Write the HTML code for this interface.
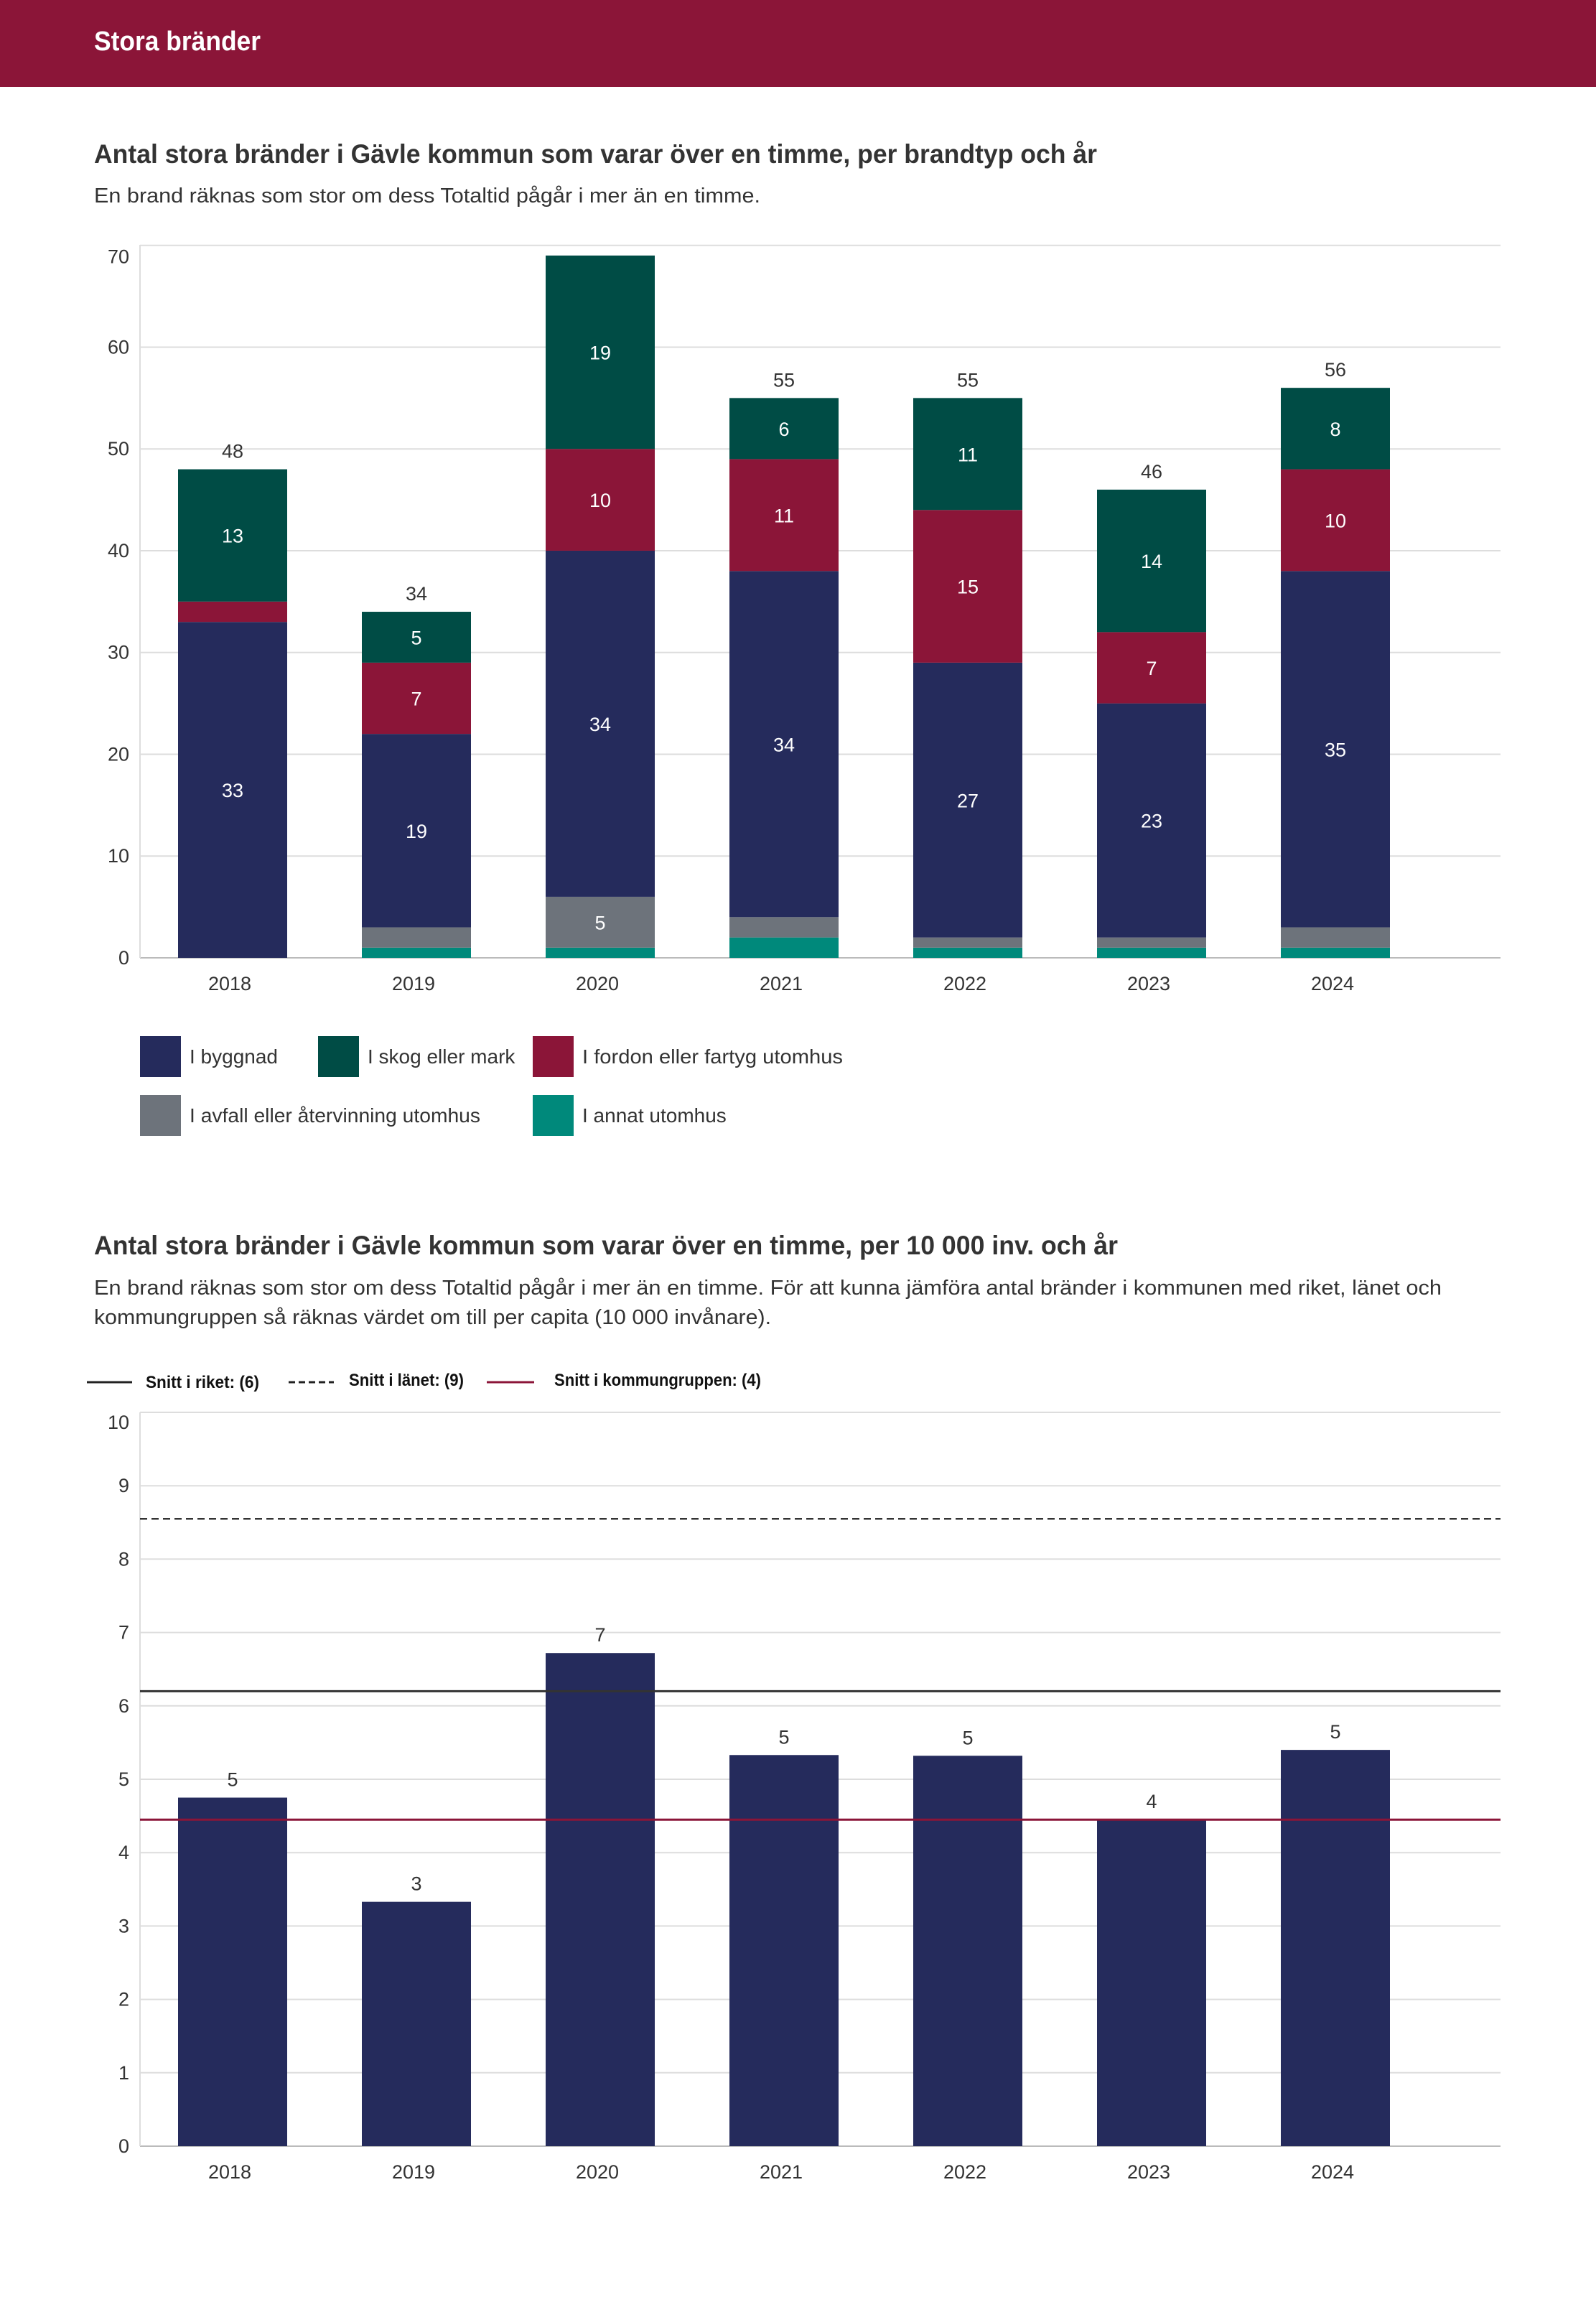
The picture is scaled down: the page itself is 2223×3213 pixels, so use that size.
<!DOCTYPE html>
<html><head><meta charset="utf-8"><style>
html,body{margin:0;padding:0;background:#fff}
svg{display:block;font-family:"Liberation Sans",sans-serif}
</style></head><body>
<svg id="s" width="2223" height="3213" viewBox="0 0 2223 3213" xmlns="http://www.w3.org/2000/svg">
<rect x="0" y="0" width="2223" height="121" fill="#8b1538"/>
<text x="131" y="70" font-size="38" font-weight="bold" fill="#fff" textLength="232" lengthAdjust="spacingAndGlyphs">Stora bränder</text>
<text x="131" y="227" font-size="37" font-weight="bold" fill="#333" textLength="1397" lengthAdjust="spacingAndGlyphs">Antal stora bränder i Gävle kommun som varar över en timme, per brandtyp och år</text>
<text x="131" y="282" font-size="29" fill="#333" textLength="928" lengthAdjust="spacingAndGlyphs">En brand räknas som stor om dess Totaltid pågår i mer än en timme.</text>
<g id="c1"></g>
<g>
<rect x="195" y="1443" width="57" height="57" fill="#252b5c"/>
<text x="264" y="1481" font-size="28" fill="#333">I byggnad</text>
<rect x="443" y="1443" width="57" height="57" fill="#004c45"/>
<text x="512" y="1481" font-size="28" fill="#333">I skog eller mark</text>
<rect x="742" y="1443" width="57" height="57" fill="#8b1538"/>
<text x="811" y="1481" font-size="28" fill="#333" textLength="363" lengthAdjust="spacingAndGlyphs">I fordon eller fartyg utomhus</text>
<rect x="195" y="1525" width="57" height="57" fill="#6d737b"/>
<text x="264" y="1563" font-size="28" fill="#333" textLength="405" lengthAdjust="spacingAndGlyphs">I avfall eller återvinning utomhus</text>
<rect x="742" y="1525" width="57" height="57" fill="#00897b"/>
<text x="811" y="1563" font-size="28" fill="#333">I annat utomhus</text>
</g>
<text x="131" y="1747" font-size="37" font-weight="bold" fill="#333" textLength="1426" lengthAdjust="spacingAndGlyphs">Antal stora bränder i Gävle kommun som varar över en timme, per 10 000 inv. och år</text>
<text x="131" y="1803" font-size="29" fill="#333" textLength="1877" lengthAdjust="spacingAndGlyphs">En brand räknas som stor om dess Totaltid pågår i mer än en timme. För att kunna jämföra antal bränder i kommunen med riket, länet och</text>
<text x="131" y="1844" font-size="29" fill="#333" textLength="943" lengthAdjust="spacingAndGlyphs">kommungruppen så räknas värdet om till per capita (10 000 invånare).</text>
<g>
<line x1="121" y1="1925" x2="184" y2="1925" stroke="#222" stroke-width="3"/>
<text x="203" y="1933" font-size="24" font-weight="bold" fill="#111" textLength="158" lengthAdjust="spacingAndGlyphs">Snitt i riket: (6)</text>
<line x1="402" y1="1925" x2="465" y2="1925" stroke="#222" stroke-width="3" stroke-dasharray="9,5"/>
<text x="486" y="1930" font-size="24" font-weight="bold" fill="#111" textLength="160" lengthAdjust="spacingAndGlyphs">Snitt i länet: (9)</text>
<line x1="678" y1="1925" x2="744" y2="1925" stroke="#8b1538" stroke-width="3"/>
<text x="772" y="1930" font-size="24" font-weight="bold" fill="#111" textLength="288" lengthAdjust="spacingAndGlyphs">Snitt i kommungruppen: (4)</text>
</g>
<g id="c2"></g>
</svg>
<script>
const years = ["2018","2019","2020","2021","2022","2023","2024"];
const annat = [0,1,1,2,1,1,1];
const avfall = [0,2,5,2,1,1,2];
const byggnad = [33,19,34,34,27,23,35];
const fordon = [2,7,10,11,15,7,10];
const skog = [13,5,19,6,11,14,8];
const ticks1 = [0,10,20,30,40,50,60,70];
const perCapita = [4.75,3.33,6.72,5.33,5.32,4.45,5.4];
const perCapitaLabels = ["5","3","7","5","5","4","5"];
const ticks2 = [0,1,2,3,4,5,6,7,8,9,10];
const snittRiket = 6.2;
const snittLanet = 8.55;
const snittKommungrupp = 4.45;

const NS="http://www.w3.org/2000/svg";
function mk(parent,tag,attrs,txt){const e=document.createElementNS(NS,tag);for(const k in attrs)e.setAttribute(k,attrs[k]);if(txt!==undefined)e.textContent=txt;parent.appendChild(e);return e;}
const xC = i => 324 + 256*i;
const BW = 152, L = 195, R = 2090;

// chart 1
const c1=document.getElementById('c1');
const y1 = v => 1334 - v*(1334-341.7)/70;
ticks1.forEach((t,k)=>{
  const g=mk(c1,'line',{x1:L,x2:R,y1:y1(t),y2:y1(t),stroke:t===0?'#bbb':'#ddd','stroke-width':2});
  
  
  const off = k===ticks1.length-1 ? 16 : 0;
  const tx=mk(c1,'text',{x:180,y:y1(t)+9+off,'font-size':27,fill:'#333','text-anchor':'end'},t);
  
  
});
const ax=mk(c1,'line',{x1:L,x2:L,y1:341,y2:1334,stroke:'#ddd','stroke-width':2});


const series=[["annat",annat,"#00897b"],["avfall",avfall,"#6d737b"],["byggnad",byggnad,"#252b5c"],["fordon",fordon,"#8b1538"],["skog",skog,"#004c45"]];
years.forEach((yr,i)=>{
  let base=0;
  series.forEach(([nm,arr,col])=>{
    const v=arr[i]; if(!v){return;}
    const r=mk(c1,'rect',{x:xC(i)-BW/2,y:y1(base+v),width:BW,height:y1(base)-y1(base+v),fill:col});
    
    
    if(v>=5){
      const t=mk(c1,'text',{x:xC(i),y:y1(base+v/2)+10,'font-size':27,fill:'#fff','text-anchor':'middle'},v);
      
      
    }
    base+=v;
  });
  if(y1(base)-24>341){
    const t=mk(c1,'text',{x:xC(i),y:y1(base)-16,'font-size':27,fill:'#333','text-anchor':'middle'},base);
    
    
  }
  const xl=mk(c1,'text',{x:xC(i)-4,y:1379,'font-size':27,fill:'#333','text-anchor':'middle'},yr);
  
  
});

// chart 2
const c2=document.getElementById('c2');
const y2 = v => 2989 - v*(2989-1967)/10;
ticks2.forEach((t,k)=>{
  const g=mk(c2,'line',{x1:L,x2:R,y1:y2(t),y2:y2(t),stroke:t===0?'#bbb':'#ddd','stroke-width':2});
  
  
  const off = k===ticks2.length-1 ? 14 : 0;
  const tx=mk(c2,'text',{x:180,y:y2(t)+9+off,'font-size':27,fill:'#333','text-anchor':'end'},t);
  
  
});
const ax2=mk(c2,'line',{x1:L,x2:L,y1:1967,y2:2989,stroke:'#ddd','stroke-width':2});


years.forEach((yr,i)=>{
  const v=perCapita[i];
  const r=mk(c2,'rect',{x:xC(i)-BW/2,y:y2(v),width:BW,height:y2(0)-y2(v),fill:'#252b5c'});
  
  
  const t=mk(c2,'text',{x:xC(i),y:y2(v)-16,'font-size':27,fill:'#333','text-anchor':'middle'},perCapitaLabels[i]);
  
  
  const xl=mk(c2,'text',{x:xC(i)-4,y:3034,'font-size':27,fill:'#333','text-anchor':'middle'},yr);
  
  
});
const lr=mk(c2,'line',{x1:L,x2:R,y1:y2(snittRiket),y2:y2(snittRiket),stroke:'#333','stroke-width':3});


const ll=mk(c2,'line',{x1:L,x2:R,y1:y2(snittLanet),y2:y2(snittLanet),stroke:'#333','stroke-width':2.5,'stroke-dasharray':'10,6'});


const lk=mk(c2,'line',{x1:L,x2:R,y1:y2(snittKommungrupp),y2:y2(snittKommungrupp),stroke:'#8b1538','stroke-width':3});


</script>
</body></html>
